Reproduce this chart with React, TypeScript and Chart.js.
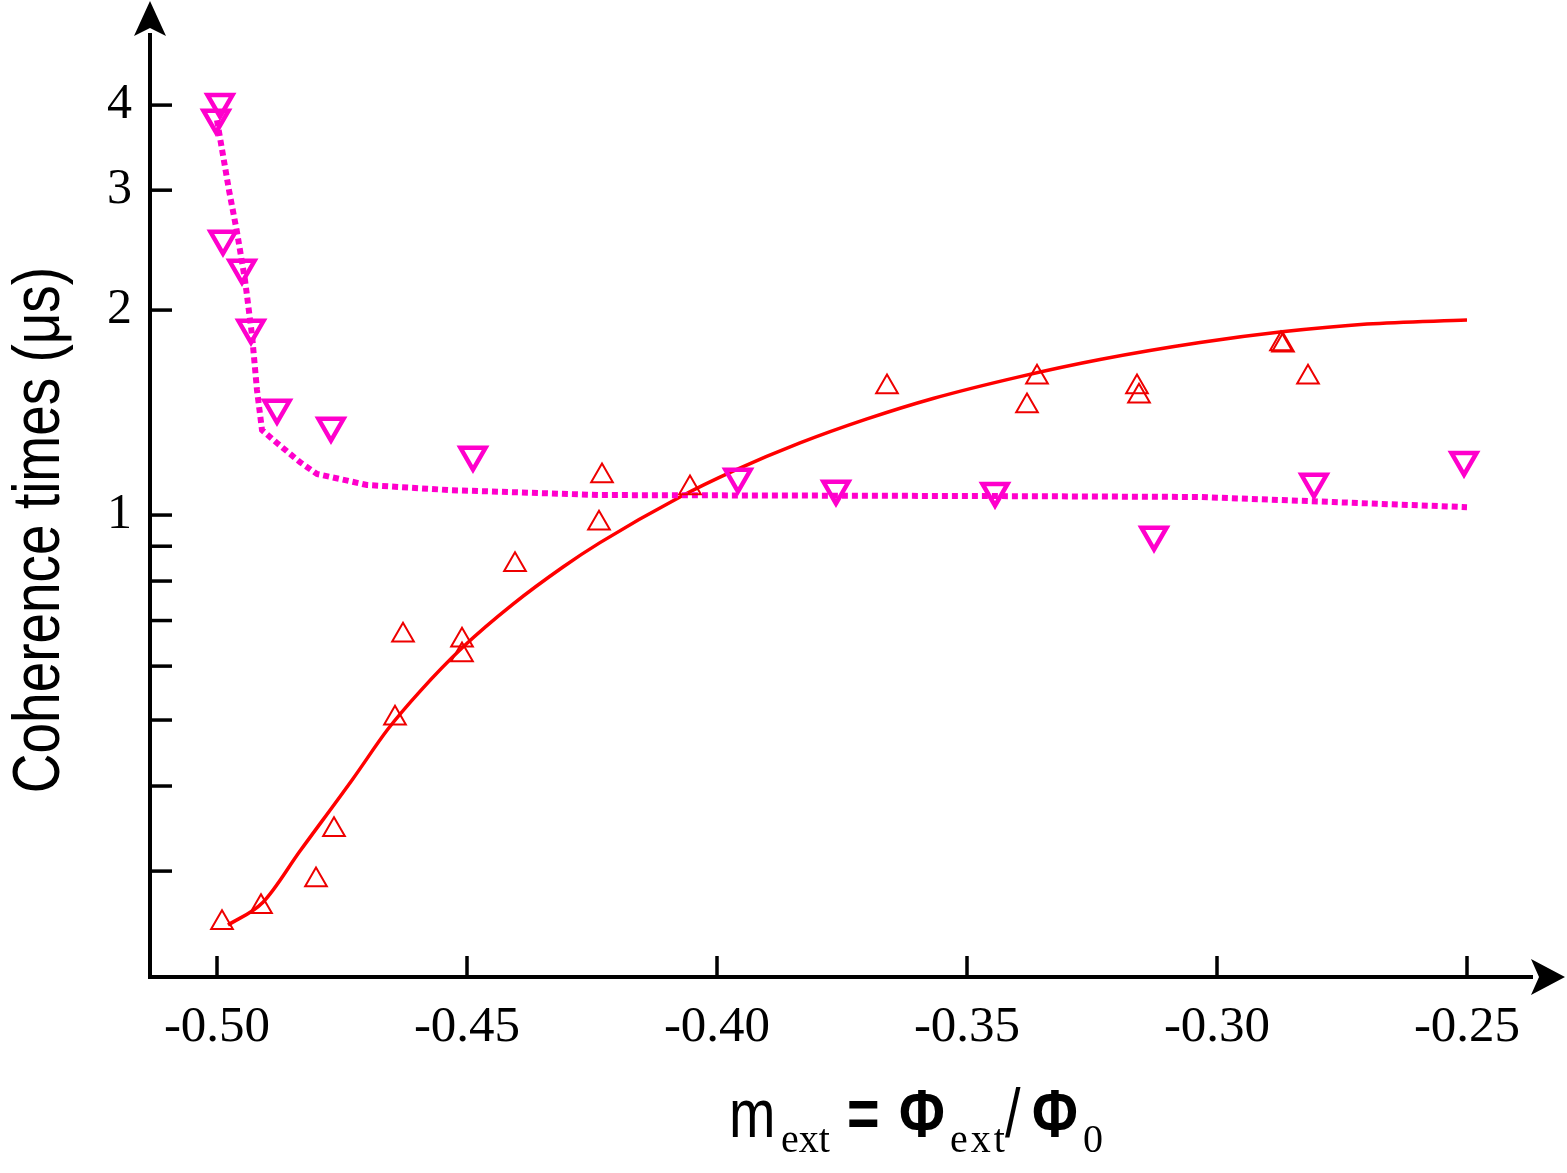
import React, { useEffect, useRef } from 'react';
import { Chart, registerables } from 'chart.js';

Chart.register(...registerables);

// ---------- data ----------
const X_TICKS = [-0.5, -0.45, -0.4, -0.35, -0.3, -0.25];
const Y_TICKS = [0.3, 0.4, 0.5, 0.6, 0.7, 0.8, 0.9, 1, 2, 3, 4];
const Y_LABELED = [1, 2, 3, 4];

const X_MIN = -0.5134;
const X_MAX = -0.237;
const Y_MIN = 0.2097;
const Y_MAX = 5.07;

// red up-triangles (measured)
const RED_X = [-0.499, -0.4912, -0.4802, -0.4766, -0.4644, -0.4628, -0.451, -0.451, -0.4404, -0.4236, -0.423, -0.4054, -0.366, -0.338, -0.336, -0.316, -0.3156, -0.2872, -0.2868, -0.2818];
const RED_Y = [0.252, 0.266, 0.291, 0.345, 0.503, 0.666, 0.655, 0.623, 0.845, 0.973, 1.141, 1.096, 1.542, 1.446, 1.594, 1.542, 1.495, 1.783, 1.775, 1.594];

// magenta down-triangles (measured)
const MAG_X = [-0.4994, -0.5002, -0.4988, -0.495, -0.4932, -0.488, -0.4772, -0.4488, -0.3958, -0.3762, -0.3444, -0.3126, -0.2806, -0.2506];
const MAG_Y = [4.04, 3.83, 2.543, 2.305, 1.882, 1.436, 1.351, 1.225, 1.137, 1.092, 1.084, 0.935, 1.118, 1.204];

// red solid fit curve
const RED_FIT_X = [-0.4978, -0.4908, -0.4834, -0.4728, -0.4658, -0.4594, -0.4508, -0.4408, -0.4308, -0.4234, -0.4074, -0.3968, -0.3834, -0.37, -0.3568, -0.3394, -0.3234, -0.3034, -0.287, -0.27, -0.25];
const RED_FIT_Y = [0.25, 0.27, 0.321, 0.41, 0.485, 0.551, 0.64, 0.74, 0.839, 0.911, 1.063, 1.16, 1.276, 1.384, 1.483, 1.597, 1.692, 1.792, 1.858, 1.908, 1.934];

// magenta dotted fit curve
const MAG_FIT_X = [-0.5, -0.4976, -0.496, -0.4944, -0.493, -0.492, -0.491, -0.488, -0.4834, -0.48, -0.47, -0.4534, -0.4234, -0.3394, -0.3034, -0.2768, -0.25];
const MAG_FIT_Y = [3.8, 3.0, 2.603, 2.214, 1.838, 1.526, 1.333, 1.276, 1.196, 1.149, 1.107, 1.088, 1.07, 1.066, 1.063, 1.045, 1.027];

const Y_TITLE = 'Coherence times (μs)';

const RED_MARK = '#ee0000';
const RED_LINE = '#ff0000';
const MAGENTA = '#ff00cc';

const SERIF = '"Liberation Serif", "Times New Roman", Times, serif';

function narrowAvailable(): boolean {
  const c = document.createElement('canvas').getContext('2d');
  if (!c) return false;
  const s = 'Coherence times mmmm';
  c.font = '40px monospace';
  const a = c.measureText(s).width;
  c.font = '40px "Liberation Sans Narrow", monospace';
  const b = c.measureText(s).width;
  return Math.abs(a - b) > 0.5;
}

function sansFont(size: number, narrow: boolean, bold = false) {
  const w = bold ? 'bold ' : '';
  return narrow
    ? `${w}${size}px "Liberation Sans Narrow", "Arial Narrow", sans-serif`
    : `${w}${size}px "Liberation Sans", Arial, sans-serif`;
}

function drawPiece(
  ctx: CanvasRenderingContext2D,
  text: string,
  x: number,
  y: number,
  size: number,
  serif: boolean,
  narrow: boolean,
  spacing = 0,
  bold = false
) {
  ctx.save();
  ctx.translate(x, y);
  if (serif) {
    ctx.font = `${size}px ${SERIF}`;
  } else {
    ctx.font = sansFont(size, narrow, bold);
    if (!narrow) ctx.scale(0.82, 1);
  }
  if (spacing) (ctx as any).letterSpacing = `${spacing}px`;
  ctx.fillStyle = '#000';
  ctx.textAlign = 'left';
  ctx.textBaseline = 'alphabetic';
  ctx.fillText(text, 0, 0);
  ctx.restore();
}

export default function App() {
  const ref = useRef<HTMLCanvasElement | null>(null);

  useEffect(() => {
    if (!ref.current) return;
    const narrow = narrowAvailable();

    const decor = {
      id: 'decor',
      afterDraw(chart: any) {
        const { ctx, chartArea: a, scales } = chart;
        const xs = scales.x;
        const ys = scales.y;
        ctx.save();
        ctx.strokeStyle = '#000';
        ctx.fillStyle = '#000';
        ctx.lineCap = 'butt';
        ctx.lineWidth = 3.5;
        // inward tick marks
        xs.ticks.forEach((t: any) => {
          const px = xs.getPixelForValue(t.value);
          ctx.beginPath();
          ctx.moveTo(px, a.bottom);
          ctx.lineTo(px, a.bottom - 21);
          ctx.stroke();
        });
        ys.ticks.forEach((t: any) => {
          const py = ys.getPixelForValue(t.value);
          ctx.beginPath();
          ctx.moveTo(a.left, py);
          ctx.lineTo(a.left + 22, py);
          ctx.stroke();
        });
        // arrow heads
        ctx.beginPath();
        ctx.moveTo(a.left, a.top - 34);
        ctx.lineTo(a.left - 16, a.top + 1);
        ctx.lineTo(a.left, a.top - 7);
        ctx.lineTo(a.left + 16, a.top + 1);
        ctx.closePath();
        ctx.fill();
        ctx.beginPath();
        ctx.moveTo(a.right + 33, a.bottom);
        ctx.lineTo(a.right - 1, a.bottom - 18);
        ctx.lineTo(a.right + 7, a.bottom);
        ctx.lineTo(a.right - 1, a.bottom + 18);
        ctx.closePath();
        ctx.fill();
        ctx.restore();

        // y-axis title
        ctx.save();
        ctx.translate(59, 530);
        ctx.rotate(-Math.PI / 2);
        ctx.font = sansFont(67, narrow);
        if (!narrow) ctx.scale(0.82, 1);
        ctx.fillStyle = '#000';
        ctx.textAlign = 'center';
        ctx.textBaseline = 'alphabetic';
        ctx.fillText(Y_TITLE, 0, 0);
        ctx.restore();

        // x-axis title: m_ext = Φ_ext / Φ_0
        const base = 1137;
        const sub = 1152;
        drawPiece(ctx, 'm', 729, base, 68, false, narrow);
        drawPiece(ctx, 'ext', 781, sub, 40, true, narrow);
        drawPiece(ctx, '=', 847, base, 68, false, narrow, 0, true);
        drawPiece(ctx, 'Φ', 899, base, 68, false, narrow, 0, true);
        drawPiece(ctx, 'ext', 950, sub, 40, true, narrow, 3);
        drawPiece(ctx, '/', 1005, base, 68, false, narrow);
        drawPiece(ctx, 'Φ', 1032, base, 68, false, narrow, 0, true);
        drawPiece(ctx, '0', 1083, sub, 40, true, narrow);
      },
    };

    const chart = new Chart(ref.current, {
      type: 'scatter',
      data: {
        datasets: [
          {
            label: 'T1 fit',
            data: RED_FIT_X.map((x, i) => ({ x, y: RED_FIT_Y[i] })),
            showLine: true,
            borderColor: RED_LINE,
            backgroundColor: RED_LINE,
            borderWidth: 3.5,
            pointRadius: 0,
            cubicInterpolationMode: 'monotone',
            fill: false,
            order: 3,
          } as any,
          {
            label: 'T2 fit',
            data: MAG_FIT_X.map((x, i) => ({ x, y: MAG_FIT_Y[i] })),
            showLine: true,
            borderColor: MAGENTA,
            backgroundColor: MAGENTA,
            borderWidth: 6,
            borderDash: [6, 4],
            borderCapStyle: 'butt',
            pointRadius: 0,
            tension: 0,
            fill: false,
            order: 2,
          } as any,
          {
            label: 'T1',
            data: RED_X.map((x, i) => ({ x, y: RED_Y[i] })),
            showLine: false,
            pointStyle: 'triangle',
            pointRadius: 12.5,
            borderColor: RED_MARK,
            pointBorderColor: RED_MARK,
            backgroundColor: 'rgba(0,0,0,0)',
            pointBackgroundColor: 'rgba(0,0,0,0)',
            borderWidth: 2,
            pointBorderWidth: 2,
            order: 1,
            clip: false,
          } as any,
          {
            label: 'T2',
            data: MAG_X.map((x, i) => ({ x, y: MAG_Y[i] })),
            showLine: false,
            pointStyle: 'triangle',
            pointRotation: 180,
            pointRadius: 14.5,
            borderColor: MAGENTA,
            pointBorderColor: MAGENTA,
            backgroundColor: 'rgba(0,0,0,0)',
            pointBackgroundColor: 'rgba(0,0,0,0)',
            borderWidth: 4.5,
            pointBorderWidth: 4.5,
            order: 0,
            clip: false,
          } as any,
        ],
      },
      options: {
        responsive: true,
        maintainAspectRatio: false,
        animation: false,
        events: [],
        layout: { padding: { top: 35, right: 35, left: 0, bottom: 0 } },
        plugins: {
          legend: { display: false },
          tooltip: { enabled: false },
          title: { display: false },
        },
        scales: {
          x: {
            type: 'linear',
            min: X_MIN,
            max: X_MAX,
            afterBuildTicks: (s: any) => {
              s.ticks = X_TICKS.map((v) => ({ value: v }));
            },
            afterFit: (s: any) => {
              s.height = 196;
              s.paddingLeft = 0;
              s.paddingRight = 0;
            },
            grid: { display: false, drawTicks: false },
            border: { display: true, color: '#000', width: 4 },
            ticks: {
              autoSkip: false,
              maxRotation: 0,
              minRotation: 0,
              padding: 20,
              color: '#000',
              font: { family: SERIF, size: 51 },
              callback: (v: any) => Number(v).toFixed(2),
            },
          },
          y: {
            type: 'logarithmic',
            min: Y_MIN,
            max: Y_MAX,
            afterBuildTicks: (s: any) => {
              s.ticks = Y_TICKS.map((v) => ({ value: v }));
            },
            afterFit: (s: any) => {
              s.width = 150;
              s.paddingTop = 0;
              s.paddingBottom = 0;
            },
            grid: { display: false, drawTicks: false },
            border: { display: true, color: '#000', width: 4 },
            ticks: {
              autoSkip: false,
              padding: 18,
              color: '#000',
              font: { family: SERIF, size: 50 },
              callback: (v: any) => (Y_LABELED.includes(Number(v)) ? String(v) : ''),
            },
          },
        },
      } as any,
      plugins: [decor],
    });

    return () => chart.destroy();
  }, []);

  return (
    <div style={{ position: 'absolute', left: 0, top: 0, width: 1567, height: 1173, background: '#fff' }}>
      <canvas ref={ref} />
    </div>
  );
}
